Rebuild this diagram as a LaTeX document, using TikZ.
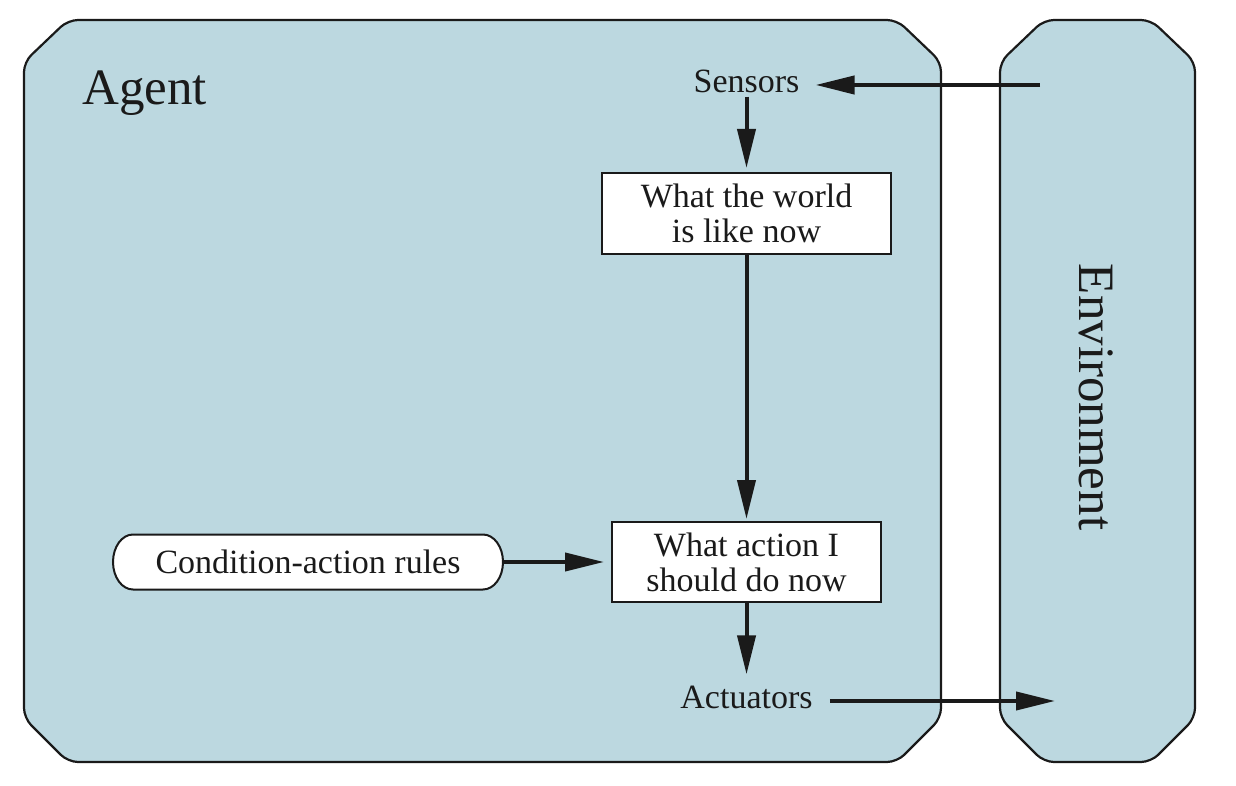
\documentclass[tikz,border=0pt]{standalone}
\usepackage{fontspec}
\setmainfont{Liberation Serif}
\usetikzlibrary{arrows.meta}
\definecolor{panel}{RGB}{188,216,224}
\definecolor{ink}{RGB}{26,26,26}
\tikzset{
  panelbox/.style={draw=ink, line width=2.2pt, fill=panel, rounded corners=10pt},
  txt/.style={inner sep=0pt, font=\fontsize{34}{35}\selectfont, text=ink},
  bigtxt/.style={inner sep=0pt, font=\fontsize{51}{52}\selectfont, text=ink},
  procbox/.style={draw=ink, line width=2pt, fill=white, inner sep=0pt, align=center,
    font=\fontsize{34}{35}\selectfont, text=ink},
  pill/.style={draw=ink, line width=2pt, fill=white},
  arr/.style={draw=ink, line width=4pt, -{Triangle[length=39pt,width=18pt]}}
}
\begin{document}
\begin{tikzpicture}[x=1pt,y=-1pt]
\useasboundingbox (0,0) rectangle (1236,786);
% panels
\path[panelbox] (24,62) -- (24,718) -- (68,762) -- (897,762) -- (941,718) -- (941,62) -- (897,20) -- (68,20) -- cycle;
\path[panelbox] (1000,62) -- (1000,718) -- (1044,762) -- (1151,762) -- (1195,718) -- (1195,62) -- (1151,20) -- (1044,20) -- cycle;
% rules pill outline (elliptic ends)
\coordinate (rc) at (308,562);
\path[pill] ([shift={(-175,-27.5)}]rc) -- ([shift={(175,-27.5)}]rc)
  arc[start angle=90, end angle=-90, x radius=20pt, y radius=27.5pt]
  -- ([shift={(-175,27.5)}]rc)
  arc[start angle=270, end angle=90, x radius=20pt, y radius=27.5pt] -- cycle;
% labels
\node[bigtxt, anchor=base west] (agent) at (82,105) {Agent};
\node[bigtxt, rotate=-90, anchor=base] (env) at (1079,397) {Environment};
\node[txt, anchor=base] (sensors) at (746.5,93) {Sensors};
\node[txt, anchor=base] (actuators) at (746.5,708) {Actuators};
\node[procbox, minimum width=289pt, minimum height=81pt] (world) at (746.5,213.5) {What the world\\is like now};
\node[procbox, minimum width=269pt, minimum height=80pt] (action) at (746.5,562) {What action I\\should do now};
\node[txt, minimum width=390pt, minimum height=55pt] (rules) at (rc) {Condition-action rules};
% connectors
\coordinate (envin) at (1040,85);
\coordinate (envout) at (1055,701);
\draw[arr, shorten >=16pt] (envin) -- (sensors.east |- envin);
\draw[arr, shorten <=3pt, shorten >=4pt] (sensors.south) -- (world.north);
\draw[arr, shorten >=2pt] (world.south) -- (action.north);
\draw[arr, shorten >=11pt] (action.south) -- (actuators.north);
\draw[arr, shorten <=17pt] (actuators.east |- envout) -- (envout);
\draw[arr, shorten >=7pt] (rules.east) -- (action.west);
\end{tikzpicture}
\end{document}
